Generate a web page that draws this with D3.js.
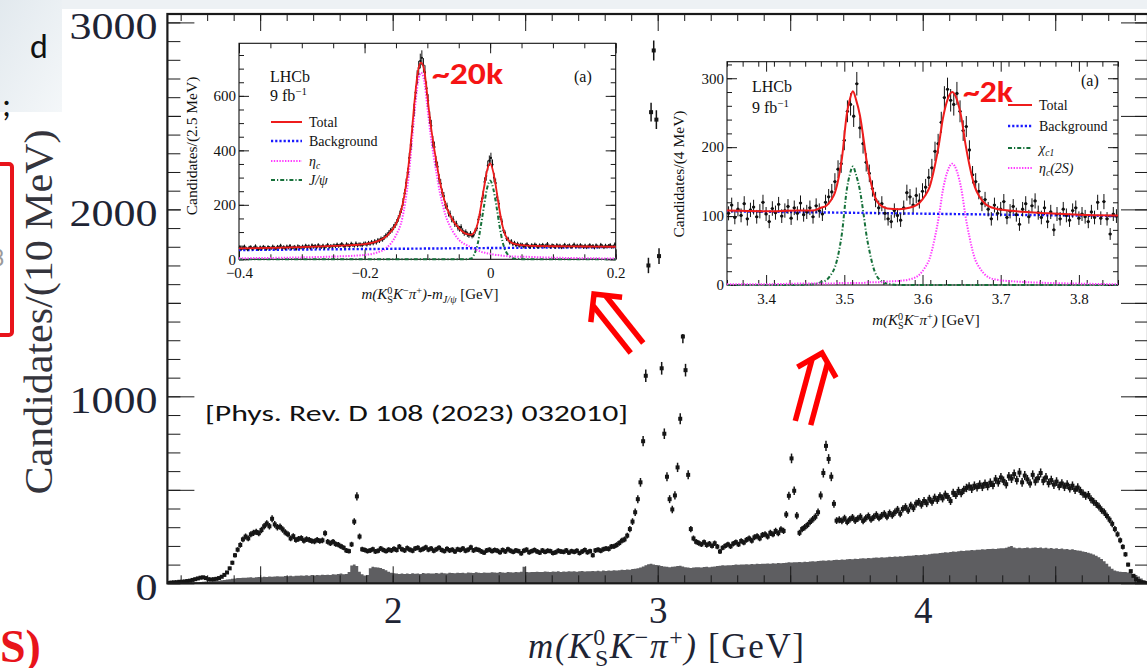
<!DOCTYPE html>
<html>
<head>
<meta charset="utf-8">
<script src="https://cdn.jsdelivr.net/npm/d3@7"></script>
<style>
  html, body { margin: 0; padding: 0; background: #fff; }
  svg { display: block; }
</style>
</head>
<body>
<svg id="chart" width="1147" height="668"></svg>
<script>
// ---- main plot: m(KS K pi), 10 MeV bins starting at 1.15 GeV ----
var mainStart = 1.15;
var mainBin = 0.01;
var mainCounts = [
  2,4,5,6,8,8,10,12,14,18,
  22,26,30,32,28,22,20,22,24,28,
  35,45,58,80,110,150,180,205,235,250,
  240,262,270,275,268,285,305,320,305,345,
  315,300,302,288,272,262,240,252,232,238,
  242,228,236,232,226,224,232,226,230,268,
  222,214,222,210,206,198,190,176,172,208,
  330,465,250,182,178,172,176,182,170,174,
  186,178,172,180,176,184,178,196,182,176,
  188,180,174,186,190,178,184,192,180,186,
  174,182,190,178,172,184,176,180,170,182,
  178,186,174,180,192,176,182,178,170,164,
  176,180,172,178,174,166,178,170,182,174,
  168,176,172,160,174,180,166,172,178,170,
  164,176,168,174,172,162,166,174,170,168,
  176,164,172,168,174,162,170,178,166,172,
  150,176,180,174,182,186,184,196,198,205,
  215,228,235,255,290,330,380,450,540,760,
  1110,1700,2520,2850,2480,1750,1150,800,570,450,
  395,470,620,880,1320,1140,580,290,240,222,
  215,208,220,205,212,200,214,196,170,190,
  200,208,198,212,220,208,226,218,232,240,
  228,246,252,240,258,262,250,270,262,280,
  268,288,280,368,468,668,495,362,270,290,
  300,312,328,342,356,380,470,590,735,665,
  570,425,335,340,334,348,328,342,352,336,
  346,356,334,348,360,342,354,366,350,362,
  372,356,376,364,380,394,372,398,408,390,
  416,402,426,436,420,440,428,452,436,458,
  446,466,454,474,462,440,484,472,494,482,
  500,510,518,506,522,514,528,516,532,520,
  538,526,556,540,566,548,530,572,560,584,
  552,592,540,576,556,534,580,546,562,590,
  548,566,536,552,528,544,520,534,516,528,
  508,522,500,512,494,480,468,472,450,436,
  424,410,392,380,360,340,318,290,262,230,
  195,155,100,65,40,22,12,6,3,1
];
// grey histogram (sideband background), same binning
var mainBkgHist = [
  1,1,2,2,2,3,3,4,4,5,
  6,6,7,8,9,9,10,12,13,14,
  16,18,20,22,24,26,28,28,30,30,
  31,32,30,33,34,32,35,34,36,35,
  36,38,36,37,39,38,40,38,41,40,
  42,40,43,41,44,42,45,43,46,44,
  46,45,48,47,50,52,48,50,60,95,
  100,92,62,48,42,45,80,88,86,84,
  82,76,70,62,56,54,52,50,52,50,
  52,50,54,51,53,50,55,52,54,52,
  53,55,52,56,54,53,57,55,54,56,
  55,57,54,58,56,55,59,57,55,58,
  57,56,59,58,56,60,58,57,60,59,
  58,60,59,62,88,60,59,61,60,62,
  60,61,63,62,60,63,62,64,61,63,
  62,64,63,65,62,64,66,63,65,64,
  66,64,67,65,68,66,69,67,70,68,
  70,72,71,74,73,76,78,80,84,90,
  96,102,104,100,98,96,92,90,88,86,
  88,90,92,94,90,86,84,82,84,86,
  86,85,87,88,86,88,90,92,94,96,
  95,97,96,98,100,99,101,100,102,101,
  103,102,104,103,105,104,106,105,107,106,
  108,107,109,110,112,111,113,112,114,113,
  115,114,116,118,117,119,120,122,121,123,
  122,124,126,125,127,126,128,130,129,131,
  130,132,134,133,135,134,136,138,137,139,
  138,140,142,141,143,142,145,144,146,148,
  147,149,151,150,152,154,153,156,158,160,
  159,162,164,166,165,168,170,169,172,174,
  173,176,175,178,177,180,179,182,181,184,
  183,185,184,186,188,187,190,196,200,192,
  188,190,187,189,191,188,190,192,189,191,
  188,190,186,189,185,187,184,186,182,184,
  180,182,178,176,174,170,168,164,160,154,
  148,140,130,118,104,90,78,68,64,62,
  60,60,58,55,50,44,36,26,16,8
];
var mainYLabels = [0, 1000, 2000, 3000];
var mainXLabels = [2, 3, 4];

// ---- inset (a) left: m - m(J/psi), 2.5 MeV bins from -0.4 GeV ----
var jpsiStart = -0.4;
var jpsiBin = 0.0025;
var jpsiCounts = [
  44,38,41,47,40,36,43,45,39,42,48,41,37,44,40,46,43,38,45,42,
  41,47,43,39,46,44,50,42,45,40,47,43,49,41,44,46,38,48,45,43,
  47,44,50,45,48,42,51,46,49,44,52,47,45,50,43,48,53,46,49,47,
  51,48,54,49,52,56,50,47,55,52,49,57,53,50,58,51,55,54,52,57,
  58,54,60,57,63,59,66,62,70,68,75,73,80,86,90,97,104,108,118,126,
  136,150,166,184,210,242,280,318,372,420,488,548,612,668,702,728,740,712,686,628,
  582,520,490,432,412,360,340,296,278,244,232,200,194,170,166,148,146,130,130,116,
  112,118,104,96,100,92,88,94,86,90,104,114,146,164,212,236,284,306,344,362,
  372,348,300,280,228,204,156,138,106,96,76,74,62,66,56,60,52,57,50,54,
  53,47,51,55,49,46,52,48,54,50,45,51,49,53,47,50,56,48,46,51,
  49,45,52,47,50,44,48,53,46,49,51,45,48,54,47,50,46,52,48,45,
  50,44,48,52,46,49,43,51,47,45,53,48,44,50,46,49,52,45,47,55
];
var jpsiFitX = [-0.4,-0.35,-0.3,-0.25,-0.2,-0.18,-0.165,-0.15,-0.14,-0.13,-0.125,-0.12,-0.115,-0.11,-0.105,
  -0.1,-0.095,-0.09,-0.085,-0.08,-0.075,-0.07,-0.06,-0.05,-0.04,-0.03,-0.025,-0.02,-0.015,-0.01,
  -0.005,0,0.005,0.01,0.015,0.02,0.025,0.03,0.04,0.06,0.1,0.15,0.2];
var jpsiFitTotal = [40,42,45,49,56,66,85,130,195,345,460,590,690,722,695,
  600,500,420,350,285,235,195,145,115,95,90,100,130,190,260,
  325,352,320,255,180,120,85,68,56,50,48,47,46];
var jpsiFitEtac = [4,5,7,10,16,25,42,88,150,300,420,550,650,685,655,
  560,460,380,310,245,195,155,105,72,55,44,38,33,28,25,
  22,20,18,16,15,13,12,11,10,9,6,4,3];
var jpsiFitJpsi = [0,0,0,0,0,0,0,0,0,0,0,0,0,0,0,
  0,0,0,0,0,0,0,0,0,0,3,20,55,120,192,
  260,289,259,196,122,63,29,13,2,0,0,0,0];
var jpsiBkgX = [-0.4, 0.2];
var jpsiBkg = [34, 45];
var jpsiLegend = ["Total", "Background", "ηc", "J/ψ"];

// ---- inset (a) right: m(KS K pi), 4 MeV bins from 3.35 GeV ----
var chiStart = 3.35;
var chiBin = 0.004;
var chiCounts = [
  104,116,98,110,101,118,96,109,113,99,107,120,103,92,111,105,117,100,108,114,97,112,104,119,102,
  106,112,99,115,108,103,120,128,135,150,168,176,210,252,262,245,292,228,205,178,162,140,124,112,118,
  104,96,92,108,101,94,112,134,128,116,130,122,136,142,156,170,194,205,236,272,284,268,262,278,252,
  224,230,196,160,150,136,118,124,110,96,116,104,110,121,98,107,114,102,88,110,118,99,115,122,105,
  98,112,92,106,80,103,96,110,101,94,108,112,97,103,99,92,106,98,120,97,121,96,74,103,100
];
var chiFitX = [3.35,3.4,3.44,3.46,3.47,3.477,3.483,3.488,3.493,3.497,3.503,3.507,3.511,3.515,3.52,
  3.525,3.528,3.533,3.537,3.541,3.546,3.555,3.57,3.583,3.596,3.603,3.609,3.616,3.621,3.626,
  3.632,3.638,3.644,3.65,3.655,3.66,3.667,3.673,3.68,3.693,3.72,3.76,3.8,3.85];
var chiFitTotal = [108,107,108,108,112,115,123,134,157,184,246,269,281,269,246,
  209,184,154,135,123,116,111,110,112,119,129,142,174,204,241,
  269,280,269,241,204,174,142,128,118,111,107,104,102,101];
var chiFitChic1 = [0,0,0,1,4,7,15,26,48,75,137,160,172,160,137,
  100,75,45,26,14,7,2,0,0,0,0,0,0,0,0,
  0,0,0,0,0,0,0,0,0,0,0,0,0,0];
var chiFitEta2S = [1,1,2,2,2,2,2,2,3,3,3,3,3,3,3,
  3,4,4,4,4,4,5,6,8,15,25,38,70,100,137,
  165,176,165,137,100,70,38,25,15,8,5,3,2,1];
var chiBkgX = [3.35, 3.85];
var chiBkg = [107, 100];

// ---- styles ----
var serif = "'Liberation Serif', 'Times New Roman', serif";
var sans = "Carlito, Calibri, Lato, 'Liberation Sans', sans-serif";
var red = "#f51414";
var totalColor = "#ee1c1c";
var bkgColor = "#1a1aff";
var etaColor = "#ff3cff";
var chiColor = "#16703a";

var svg = d3.select("#chart");

// ---- slide background bits around the figure ----
var defs = svg.append("defs");
var grad = defs.append("linearGradient").attr("id", "slideGrad")
  .attr("x1", 0).attr("y1", 0).attr("x2", 1).attr("y2", 1);
grad.append("stop").attr("offset", "0%").attr("stop-color", "#e2e9ee");
grad.append("stop").attr("offset", "100%").attr("stop-color", "#f4f7f9");
svg.append("rect").attr("x", 0).attr("y", 0).attr("width", 1147).attr("height", 9).attr("fill", "#edf1f4");
svg.append("rect").attr("x", 0).attr("y", 0).attr("width", 62).attr("height", 112).attr("fill", "url(#slideGrad)");

svg.append("text").attr("x", 30).attr("y", 58).attr("font-family", sans).attr("font-size", 34)
  .attr("fill", "#111").text("d");
svg.append("text").attr("x", 2).attr("y", 116).attr("font-family", sans).attr("font-size", 34)
  .attr("fill", "#111").text(";");
svg.append("text").attr("x", -8).attr("y", 266).attr("font-family", sans).attr("font-size", 24)
  .attr("fill", "#9a9a9a").text("8");
svg.append("rect").attr("x", -12).attr("y", 164).attr("width", 24).attr("height", 171).attr("rx", 3)
  .attr("fill", "none").attr("stroke", "#e8141b").attr("stroke-width", 4);
svg.append("text").attr("x", 0).attr("y", 662).attr("font-family", serif).attr("font-size", 46)
  .attr("font-weight", "bold").attr("fill", "#e8141b").text("S)");

// ---- rich text helper (italic, sub/superscripts) ----
function richText(parent, px, py, size, anchor, parts, color) {
  var t = parent.append("text").attr("x", px).attr("y", py)
    .attr("font-family", serif).attr("font-size", size)
    .attr("text-anchor", anchor).attr("fill", color || "#111");
  var shift = 0;
  parts.forEach(function (p) {
    var target = p.sup ? -0.36 * size : (p.sub ? 0.24 * size : 0);
    var ts = t.append("tspan").text(p.t).attr("dy", target - shift);
    if (p.sup || p.sub) ts.attr("font-size", size * 0.68);
    if (p.it) ts.attr("font-style", "italic");
    if (p.back) ts.attr("dx", -p.back * size);
    shift = target;
  });
  return t;
}

// ticks only helper
function tickAxis(parent, axisFn, scale, transform, values, size, fmt, pad) {
  var a = parent.append("g").attr("transform", transform)
    .call(axisFn(scale).tickValues(values).tickSize(size).tickPadding(pad || 3)
      .tickFormat(fmt || function () { return ""; }));
  a.select(".domain").remove();
  a.attr("color", "#1a1a1a");
  return a;
}

// ---- main plot ----
var main = { left: 167.4, right: 1148, top: 14, bottom: 583.3 };
var x = d3.scaleLinear().domain([1.15, 4.85]).range([main.left, main.right]);
var y = d3.scaleLinear().domain([0, 3045]).range([main.bottom, main.top]);

defs.append("clipPath").attr("id", "mainClip").append("rect")
  .attr("x", main.left).attr("y", main.top)
  .attr("width", main.right - main.left).attr("height", main.bottom - main.top);

var plot = svg.append("g").attr("clip-path", "url(#mainClip)");

// grey histogram
var histPts = mainBkgHist.map(function (v, i) { return [mainStart + i * mainBin, v]; });
histPts.push([mainStart + mainBkgHist.length * mainBin, mainBkgHist[mainBkgHist.length - 1]]);
var histArea = d3.area().curve(d3.curveStepAfter)
  .x(function (d) { return x(d[0]); })
  .y0(y(0))
  .y1(function (d) { return y(d[1]); });
plot.append("path").datum(histPts).attr("d", histArea).attr("fill", "#5e5e61");

// data points with error bars
var mainPts = mainCounts.map(function (v, i) { return { m: mainStart + (i + 0.5) * mainBin, v: v }; })
  .filter(function (d) { return d.v > 0; });
plot.selectAll("line.merr").data(mainPts).join("line").attr("class", "merr")
  .attr("x1", function (d) { return x(d.m); }).attr("x2", function (d) { return x(d.m); })
  .attr("y1", function (d) { return y(d.v + Math.sqrt(d.v)); })
  .attr("y2", function (d) { return y(d.v - Math.sqrt(d.v)); })
  .attr("stroke", "#151515").attr("stroke-width", 1.5);
plot.selectAll("rect.mpt").data(mainPts).join("rect").attr("class", "mpt")
  .attr("x", function (d) { return x(d.m) - 2; })
  .attr("y", function (d) { return y(d.v) - 2; })
  .attr("width", 4).attr("height", 4).attr("fill", "#151515");

// main axes: ticks point inward on all four sides
var labelColor = "#1e2434";
tickAxis(svg, d3.axisLeft, y, "translate(" + main.left + ",0)", d3.range(0, 3001, 100), -13);
var yAxis = tickAxis(svg, d3.axisLeft, y, "translate(" + main.left + ",0)", d3.range(0, 3001, 500), -27,
  function (d) { return mainYLabels.indexOf(d) >= 0 ? d : ""; }, 10);
yAxis.selectAll("text").attr("font-family", serif).attr("font-size", 38).attr("fill", labelColor)
  .attr("dy", "0.42em")
  .attr("textLength", function (d) { return mainYLabels.indexOf(d) >= 0 ? String(d).length * 22 : null; })
  .attr("lengthAdjust", "spacingAndGlyphs");
tickAxis(svg, d3.axisRight, y, "translate(" + main.right + ",0)", d3.range(0, 3001, 100), -13);
tickAxis(svg, d3.axisRight, y, "translate(" + main.right + ",0)", d3.range(0, 3001, 500), -27);

var xMinor = d3.range(12, 49).map(function (d) { return d / 10; });
var xMajor = [1.5, 2, 2.5, 3, 3.5, 4, 4.5];
tickAxis(svg, d3.axisBottom, x, "translate(0," + main.bottom + ")", xMinor, -8);
var xAxis = tickAxis(svg, d3.axisBottom, x, "translate(0," + main.bottom + ")", xMajor, -17,
  function (d) { return mainXLabels.indexOf(d) >= 0 ? d : ""; }, 13);
xAxis.selectAll("text").attr("font-family", serif).attr("font-size", 37).attr("fill", labelColor);
tickAxis(svg, d3.axisTop, x, "translate(0," + main.top + ")", xMinor, -7);
tickAxis(svg, d3.axisTop, x, "translate(0," + main.top + ")", xMajor, -17);

svg.append("rect").attr("x", main.left).attr("y", main.top)
  .attr("width", main.right - main.left).attr("height", main.bottom - main.top)
  .attr("fill", "none").attr("stroke", "#1a1a1a").attr("stroke-width", 2.2);

// axis titles
svg.append("text").attr("transform", "translate(52,312) rotate(-90)")
  .attr("text-anchor", "middle").attr("font-family", serif).attr("font-size", 40)
  .attr("fill", "#34343c").attr("textLength", 365).attr("lengthAdjust", "spacingAndGlyphs")
  .text("Candidates/(10 MeV)");
richText(svg, 666, 658, 35, "middle", [
  { t: "m(K", it: 1 }, { t: "0", sup: 1 }, { t: "S", sub: 1, back: 0.34 },
  { t: "K", it: 1 }, { t: "−", sup: 1 }, { t: "π", it: 1 }, { t: "+", sup: 1 },
  { t: ")", it: 1 }, { t: " [GeV]" }
], labelColor).attr("textLength", 276).attr("lengthAdjust", "spacing");

// ---- inset builder ----
function makeInset(cfg) {
  var g = svg.append("g");
  g.append("rect").attr("x", cfg.bg[0]).attr("y", cfg.bg[1])
    .attr("width", cfg.bg[2]).attr("height", cfg.bg[3]).attr("fill", "#fff");
  var ix = d3.scaleLinear().domain(cfg.xDomain).range([cfg.left, cfg.right]);
  var iy = d3.scaleLinear().domain(cfg.yDomain).range([cfg.bottom, cfg.top]);

  tickAxis(g, d3.axisBottom, ix, "translate(0," + cfg.bottom + ")", cfg.xMinor, -5);
  var bx = tickAxis(g, d3.axisBottom, ix, "translate(0," + cfg.bottom + ")", cfg.xMajor, -10, cfg.xFmt, 8);
  bx.selectAll("text").attr("font-family", serif).attr("font-size", 15).attr("fill", "#111");
  tickAxis(g, d3.axisTop, ix, "translate(0," + cfg.top + ")", cfg.xMinor, -5);
  tickAxis(g, d3.axisTop, ix, "translate(0," + cfg.top + ")", cfg.xMajor, -10);
  tickAxis(g, d3.axisLeft, iy, "translate(" + cfg.left + ",0)", cfg.yMinor, -5);
  var ly = tickAxis(g, d3.axisLeft, iy, "translate(" + cfg.left + ",0)", cfg.yMajor, -10, d3.format("d"), 3);
  ly.selectAll("text").attr("font-family", serif).attr("font-size", 15).attr("fill", "#111");
  tickAxis(g, d3.axisRight, iy, "translate(" + cfg.right + ",0)", cfg.yMinor, -5);
  tickAxis(g, d3.axisRight, iy, "translate(" + cfg.right + ",0)", cfg.yMajor, -10);

  g.append("rect").attr("x", cfg.left).attr("y", cfg.top)
    .attr("width", cfg.right - cfg.left).attr("height", cfg.bottom - cfg.top)
    .attr("fill", "none").attr("stroke", "#111").attr("stroke-width", 1.1);

  g.append("text").attr("transform", "translate(" + cfg.yTitlePos[0] + "," + cfg.yTitlePos[1] + ") rotate(-90)")
    .attr("text-anchor", "middle").attr("font-family", serif).attr("font-size", 15.5)
    .attr("fill", "#111").text(cfg.yTitle);
  return { g: g, x: ix, y: iy };
}

function drawCurve(inset, xs, ys, color, width, dash) {
  var line = d3.line().curve(d3.curveMonotoneX)
    .x(function (d) { return inset.x(d[0]); })
    .y(function (d) { return inset.y(d[1]); });
  inset.g.append("path").datum(xs.map(function (v, i) { return [v, ys[i]]; }))
    .attr("d", line).attr("fill", "none").attr("stroke", color)
    .attr("stroke-width", width).attr("stroke-dasharray", dash || null);
}

function drawPoints(inset, start, bin, counts, r) {
  var pts = counts.map(function (v, i) { return { m: start + (i + 0.5) * bin, v: v }; });
  inset.g.selectAll(null).data(pts).join("line")
    .attr("x1", function (d) { return inset.x(d.m); }).attr("x2", function (d) { return inset.x(d.m); })
    .attr("y1", function (d) { return inset.y(d.v + Math.sqrt(d.v)); })
    .attr("y2", function (d) { return inset.y(d.v - Math.sqrt(d.v)); })
    .attr("stroke", "#111").attr("stroke-width", 1);
  inset.g.selectAll(null).data(pts).join("line")
    .attr("x1", function (d) { return inset.x(d.m - bin / 2); })
    .attr("x2", function (d) { return inset.x(d.m + bin / 2); })
    .attr("y1", function (d) { return inset.y(d.v); }).attr("y2", function (d) { return inset.y(d.v); })
    .attr("stroke", "#111").attr("stroke-width", 1);
  inset.g.selectAll(null).data(pts).join("circle")
    .attr("cx", function (d) { return inset.x(d.m); })
    .attr("cy", function (d) { return inset.y(d.v); })
    .attr("r", r).attr("fill", "#111");
}

function legendRow(inset, x0, x1, yLine, color, width, dash, parts) {
  inset.g.append("line").attr("x1", x0).attr("x2", x1).attr("y1", yLine).attr("y2", yLine)
    .attr("stroke", color).attr("stroke-width", width).attr("stroke-dasharray", dash || null);
  richText(inset.g, x1 + 7, yLine + 4.5, 14, "start", parts);
}

// ---- inset 1: eta_c and J/psi ----
var in1 = makeInset({
  bg: [181, 36, 444, 270],
  left: 239, right: 615.7, top: 43.3, bottom: 259.3,
  xDomain: [-0.4, 0.2], yDomain: [0, 793],
  xMajor: [-0.4, -0.2, 0, 0.2], xMinor: d3.range(-8, 5).map(function (d) { return d * 0.05; }),
  yMajor: [0, 200, 400, 600], yMinor: d3.range(0, 16).map(function (d) { return d * 50; }),
  xFmt: function (d) { return Math.abs(d) < 1e-9 ? "0" : d3.format(".1f")(d); },
  yTitle: "Candidates/(2.5 MeV)", yTitlePos: [197, 146]
});
drawCurve(in1, jpsiFitX, jpsiFitJpsi, chiColor, 2, "4,2,1.2,2");
drawCurve(in1, jpsiFitX, jpsiFitEtac, etaColor, 2, "1.4,1.4");
drawCurve(in1, jpsiBkgX, jpsiBkg, bkgColor, 2.4, "2.2,2");
drawPoints(in1, jpsiStart, jpsiBin, jpsiCounts, 1.1);
drawCurve(in1, jpsiFitX, jpsiFitTotal, totalColor, 1.8);

richText(in1.g, 270, 82, 16, "start", [{ t: "LHCb" }]);
richText(in1.g, 270, 101, 16, "start", [{ t: "9 fb" }, { t: "−1", sup: 1 }]);
richText(in1.g, 574, 82, 16, "start", [{ t: "(a)" }]);
legendRow(in1, 271, 302, 122, totalColor, 2, null, [{ t: jpsiLegend[0] }]);
legendRow(in1, 271, 302, 141, bkgColor, 2.4, "2.2,2", [{ t: jpsiLegend[1] }]);
legendRow(in1, 271, 302, 161, etaColor, 2, "1.4,1.4", [{ t: "η", it: 1 }, { t: "c", sub: 1, it: 1 }]);
legendRow(in1, 271, 302, 180, chiColor, 2, "4,2,1.2,2", [{ t: jpsiLegend[3], it: 1 }]);
richText(in1.g, 430, 299, 15, "middle", [
  { t: "m(K", it: 1 }, { t: "0", sup: 1 }, { t: "S", sub: 1, back: 0.34 },
  { t: "K", it: 1 }, { t: "−", sup: 1 }, { t: "π", it: 1 }, { t: "+", sup: 1 },
  { t: ")-m", it: 1 }, { t: "J/ψ", sub: 1, it: 1 }, { t: " [GeV]" }
]);

// ---- inset 2: chi_c1 and eta_c(2S) ----
var in2 = makeInset({
  bg: [664, 52, 457, 282],
  left: 727, right: 1118, top: 61.7, bottom: 285,
  xDomain: [3.35, 3.85], yDomain: [0, 324],
  xMajor: [3.4, 3.5, 3.6, 3.7, 3.8], xMinor: d3.range(0, 26).map(function (d) { return 3.35 + d * 0.02; }),
  yMajor: [0, 100, 200, 300], yMinor: d3.range(0, 17).map(function (d) { return d * 20; }),
  xFmt: d3.format(".1f"),
  yTitle: "Candidates/(4 MeV)", yTitlePos: [684, 174]
});
drawCurve(in2, chiFitX, chiFitChic1, chiColor, 2, "4,2,1.2,2");
drawCurve(in2, chiFitX, chiFitEta2S, etaColor, 2, "1.4,1.4");
drawCurve(in2, chiBkgX, chiBkg, bkgColor, 2.4, "2.2,2");
drawPoints(in2, chiStart, chiBin, chiCounts, 1.6);
drawCurve(in2, chiFitX, chiFitTotal, totalColor, 2);

richText(in2.g, 752, 92, 16, "start", [{ t: "LHCb" }]);
richText(in2.g, 752, 113, 16, "start", [{ t: "9 fb" }, { t: "−1", sup: 1 }]);
richText(in2.g, 1081, 86, 16, "start", [{ t: "(a)" }]);
legendRow(in2, 1008, 1032, 105, totalColor, 2, null, [{ t: "Total" }]);
legendRow(in2, 1008, 1032, 126, bkgColor, 2.4, "2.2,2", [{ t: "Background" }]);
legendRow(in2, 1008, 1032, 148, chiColor, 2, "4,2,1.2,2", [{ t: "χ", it: 1 }, { t: "c1", sub: 1, it: 1 }]);
legendRow(in2, 1008, 1032, 168, etaColor, 2, "1.4,1.4", [{ t: "η", it: 1 }, { t: "c", sub: 1, it: 1 }, { t: "(2S)", it: 1 }]);
richText(in2.g, 926, 325, 15, "middle", [
  { t: "m(K", it: 1 }, { t: "0", sup: 1 }, { t: "S", sub: 1, back: 0.34 },
  { t: "K", it: 1 }, { t: "−", sup: 1 }, { t: "π", it: 1 }, { t: "+", sup: 1 },
  { t: ")", it: 1 }, { t: " [GeV]" }
]);

// ---- slide annotations ----
svg.append("text").attr("x", 432).attr("y", 84).attr("font-family", sans).attr("font-weight", 700)
  .attr("font-size", 30).attr("fill", red).attr("textLength", 71).attr("lengthAdjust", "spacingAndGlyphs")
  .text("~20k");
svg.append("text").attr("x", 963).attr("y", 102).attr("font-family", sans).attr("font-weight", 700)
  .attr("font-size", 31).attr("fill", red).attr("textLength", 50).attr("lengthAdjust", "spacingAndGlyphs")
  .text("~2k");
svg.append("text").attr("x", 205).attr("y", 421).attr("font-family", sans).attr("font-size", 23)
  .attr("fill", "#111").attr("textLength", 423).attr("lengthAdjust", "spacingAndGlyphs")
  .text("[Phys. Rev. D 108 (2023) 032010]");

// double-shaft arrows
function doubleArrow(apex, tail) {
  var dx = apex[0] - tail[0], dy = apex[1] - tail[1];
  var len = Math.sqrt(dx * dx + dy * dy);
  var ux = dx / len, uy = dy / len, nx = -uy, ny = ux;
  var g = svg.append("g").attr("fill", "none").attr("stroke", "#ff0000").attr("stroke-width", 5.5);
  [-8, 8].forEach(function (o) {
    g.append("line")
      .attr("x1", tail[0] + nx * o).attr("y1", tail[1] + ny * o)
      .attr("x2", apex[0] - ux * 9 + nx * o).attr("y2", apex[1] - uy * 9 + ny * o);
  });
  g.append("polyline").attr("points", [
    [apex[0] - ux * 20 + nx * 20, apex[1] - uy * 20 + ny * 20],
    apex,
    [apex[0] - ux * 20 - nx * 20, apex[1] - uy * 20 - ny * 20]
  ].map(function (p) { return p.join(","); }).join(" "));
}
doubleArrow([594, 294], [637, 348]);
doubleArrow([822, 353], [803, 423]);
</script>
</body>
</html>
